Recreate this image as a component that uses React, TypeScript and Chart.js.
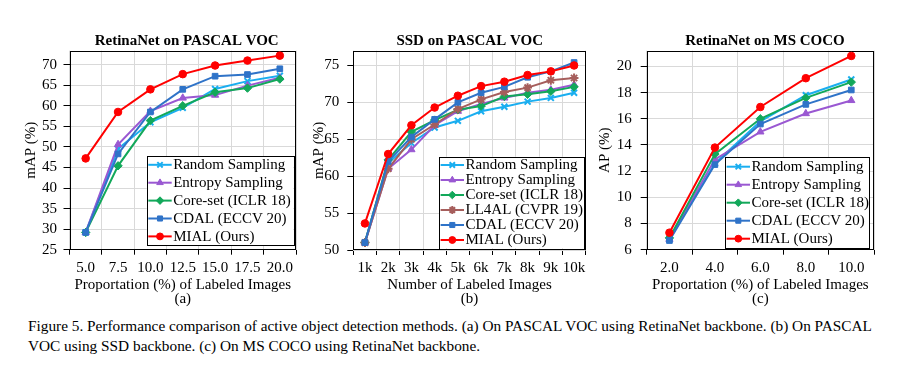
import React, { useEffect, useRef } from 'react';
import { Chart, registerables } from 'chart.js';
import { drawPoint } from 'chart.js/helpers';

Chart.register(...registerables);

const SERIF = "'Liberation Serif', 'Times New Roman', Times, serif";

// ---------- (a) RetinaNet on PASCAL VOC ----------
const vocRetinaLabels = ['5.0', '7.5', '10.0', '12.5', '15.0', '17.5', '20.0'];
const vocRetinaRandom = [29.2, 49.5, 56.0, 59.5, 64.1, 66.0, 67.3];
const vocRetinaEntropy = [29.2, 50.6, 58.7, 61.9, 62.6, 64.9, 66.8];
const vocRetinaCoreset = [29.2, 45.4, 56.4, 60.0, 63.3, 64.3, 66.5];
const vocRetinaCdal = [29.2, 48.3, 58.5, 64.0, 67.2, 67.6, 69.0];
const vocRetinaMial = [47.2, 58.5, 64.0, 67.7, 69.8, 71.0, 72.2];

// ---------- (b) SSD on PASCAL VOC ----------
const vocSsdLabels = ['1k', '2k', '3k', '4k', '5k', '6k', '7k', '8k', '9k', '10k'];
const vocSsdRandom = [51.0, 61.8, 64.5, 66.6, 67.5, 68.8, 69.4, 70.1, 70.6, 71.3];
const vocSsdEntropy = [51.0, 61.0, 63.6, 66.9, 68.8, 69.8, 70.6, 71.3, 71.7, 72.4];
const vocSsdCoreset = [51.0, 62.2, 66.0, 67.6, 69.0, 69.5, 70.8, 71.1, 71.5, 72.1];
const vocSsdLl4al = [51.0, 61.0, 65.0, 67.0, 69.1, 70.4, 71.4, 72.0, 73.0, 73.3];
const vocSsdCdal = [51.0, 62.0, 65.3, 67.7, 70.0, 71.3, 72.1, 73.4, 74.2, 75.4];
const vocSsdMial = [53.6, 63.0, 66.9, 69.3, 70.9, 72.2, 72.8, 73.7, 74.2, 75.0];

// ---------- (c) RetinaNet on MS COCO ----------
const cocoLabels = ['2.0', '4.0', '6.0', '8.0', '10.0'];
const cocoRandom = [6.8, 12.6, 15.8, 17.8, 19.0];
const cocoEntropy = [6.8, 12.9, 15.0, 16.4, 17.4];
const cocoCoreset = [6.9, 13.3, 16.0, 17.6, 18.8];
const cocoCdal = [6.7, 12.5, 15.6, 17.1, 18.2];
const cocoMial = [7.3, 13.8, 16.9, 19.1, 20.8];

const CAPTION_LINES = [
  'Figure 5. Performance comparison of active object detection methods. (a) On PASCAL VOC using RetinaNet backbone. (b) On PASCAL',
  'VOC using SSD backbone. (c) On MS COCO using RetinaNet backbone.',
];

type MethodKey = 'random' | 'entropy' | 'coreset' | 'll4al' | 'cdal' | 'mial';

const METHOD_STYLE: Record<MethodKey, { label: string; color: string; point: string; radius: number; order: number }> = {
  random: { label: 'Random Sampling', color: '#1AAEF0', point: 'crossRot', radius: 4.2, order: 5 },
  entropy: { label: 'Entropy Sampling', color: '#9A58D2', point: 'triangle', radius: 4.2, order: 4 },
  coreset: { label: 'Core-set (ICLR 18)', color: '#12A85A', point: 'rectRot', radius: 4.2, order: 3 },
  ll4al: { label: 'LL4AL (CVPR 19)', color: '#A65E5C', point: 'star', radius: 4.4, order: 2 },
  cdal: { label: 'CDAL (ECCV 20)', color: '#2F73C8', point: 'rect', radius: 4.0, order: 1 },
  mial: { label: 'MIAL (Ours)', color: '#FF0000', point: 'circle', radius: 3.8, order: 0 },
};

interface PanelSpec {
  title: string;
  yTitle: string;
  xTitle: string[];
  labels: string[];
  series: { key: MethodKey; data: number[] }[];
  yMin: number;
  yMax: number;
  yStep: number;
  box: { x: number; y: number; w: number; h: number };
  area: { left: number; right: number; top: number; bottom: number };
  titleX: number;
  titleY: number;
  yTitleX: number;
  yTickPad: number;
  legend: { right: number; bottom: number; width: number; rowH: number; padY: number };
}

const PANELS: PanelSpec[] = [
  {
    title: 'RetinaNet on PASCAL VOC',
    yTitle: 'mAP (%)',
    xTitle: ['Proportation (%) of Labeled Images', '(a)'],
    labels: vocRetinaLabels,
    series: [
      { key: 'random', data: vocRetinaRandom },
      { key: 'entropy', data: vocRetinaEntropy },
      { key: 'coreset', data: vocRetinaCoreset },
      { key: 'cdal', data: vocRetinaCdal },
      { key: 'mial', data: vocRetinaMial },
    ],
    yMin: 25,
    yMax: 73.4,
    yStep: 5,
    box: { x: 15, y: 28, w: 290, h: 284 },
    area: { left: 69.5, right: 296, top: 50.7, bottom: 249.7 },
    titleX: 186.7,
    titleY: 41.5,
    yTitleX: 31,
    yTickPad: 6.5,
    legend: { right: 2.7, bottom: 4.7, width: 146.6, rowH: 17.9, padY: 8.6 },
  },
  {
    title: 'SSD on PASCAL VOC',
    yTitle: 'mAP (%)',
    xTitle: ['Number of Labeled Images', '(b)'],
    labels: vocSsdLabels,
    series: [
      { key: 'random', data: vocSsdRandom },
      { key: 'entropy', data: vocSsdEntropy },
      { key: 'coreset', data: vocSsdCoreset },
      { key: 'll4al', data: vocSsdLl4al },
      { key: 'cdal', data: vocSsdCdal },
      { key: 'mial', data: vocSsdMial },
    ],
    yMin: 50,
    yMax: 77,
    yStep: 5,
    box: { x: 305, y: 28, w: 295, h: 284 },
    area: { left: 353.3, right: 585.7, top: 50.7, bottom: 250 },
    titleX: 469.7,
    titleY: 41.5,
    yTitleX: 319,
    yTickPad: 8,
    legend: { right: 1.7, bottom: 1.7, width: 145, rowH: 15, padY: 8.3 },
  },
  {
    title: 'RetinaNet on MS COCO',
    yTitle: 'AP (%)',
    xTitle: ['Proportation (%) of Labeled Images', '(c)'],
    labels: cocoLabels,
    series: [
      { key: 'random', data: cocoRandom },
      { key: 'entropy', data: cocoEntropy },
      { key: 'coreset', data: cocoCoreset },
      { key: 'cdal', data: cocoCdal },
      { key: 'mial', data: cocoMial },
    ],
    yMin: 6,
    yMax: 21.2,
    yStep: 2,
    box: { x: 592, y: 28, w: 305, h: 284 },
    area: { left: 646.7, right: 874, top: 50.7, bottom: 249.7 },
    titleX: 765,
    titleY: 41.5,
    yTitleX: 605,
    yTickPad: 9,
    legend: { right: 4.7, bottom: 1.5, width: 144.3, rowH: 18, padY: 9.5 },
  },
];

// Re-centre the built-in title block horizontally after layout.
const titleCenterPlugin = {
  id: 'titleCenter',
  afterLayout(chart: any, _args: any, opts: any) {
    const tb = chart.titleBlock;
    if (!tb || opts == null || opts.x == null) return;
    const w = tb.right - tb.left;
    tb.left = opts.x - w / 2;
    tb.right = opts.x + w / 2;
  },
};

const framePlugin = {
  id: 'plotFrame',
  beforeDatasetsDraw(chart: any) {
    const { ctx, chartArea } = chart;
    const l = Math.round(chartArea.left) + 0.5;
    const t = Math.round(chartArea.top) + 0.5;
    const r = Math.round(chartArea.right) - 0.5;
    const b = Math.round(chartArea.bottom) - 0.5;
    ctx.save();
    ctx.strokeStyle = '#000';
    ctx.lineWidth = 1;
    ctx.strokeRect(l, t, r - l, b - t);
    ctx.restore();
  },
};

const boxLegendPlugin = {
  id: 'boxLegend',
  afterDraw(chart: any, _args: any, opts: any) {
    if (!opts || !opts.width) return;
    const { ctx, chartArea } = chart;
    const items = chart.data.datasets;
    const n = items.length;
    const w = opts.width;
    const h = opts.padY * 2 + (n - 1) * opts.rowH;
    const x2 = chartArea.right - opts.right;
    const y2 = chartArea.bottom - opts.bottom;
    const x1 = x2 - w;
    const y1 = y2 - h;
    ctx.save();
    ctx.fillStyle = '#fff';
    ctx.fillRect(x1, y1, w, h);
    ctx.strokeStyle = '#000';
    ctx.lineWidth = 1;
    ctx.strokeRect(Math.round(x1) + 0.5, Math.round(y1) + 0.5, Math.round(w), Math.round(h));
    items.forEach((ds: any, i: number) => {
      const cy = y1 + opts.padY + i * opts.rowH;
      const lx1 = x1 + 1.6;
      const lx2 = lx1 + 23.4;
      ctx.strokeStyle = ds.borderColor;
      ctx.lineWidth = 2;
      ctx.beginPath();
      ctx.moveTo(lx1, cy);
      ctx.lineTo(lx2, cy);
      ctx.stroke();
      ctx.fillStyle = ds.backgroundColor;
      ctx.strokeStyle = ds.borderColor;
      ctx.lineWidth = ds.pointBorderWidth;
      drawPoint(ctx, { pointStyle: ds.pointStyle, rotation: 0, radius: ds.pointRadius * 0.9, borderWidth: ds.pointBorderWidth }, (lx1 + lx2) / 2, cy);
      ctx.fillStyle = '#000';
      ctx.font = `15px ${SERIF}`;
      ctx.textBaseline = 'middle';
      ctx.textAlign = 'left';
      ctx.fillText(ds.label, lx2 + 1.5, cy + 0.5);
    });
    ctx.restore();
  },
};

function buildConfig(spec: PanelSpec): any {
  const { box, area } = spec;
  const titleLH = 18;
  const titlePadTop = spec.titleY - box.y - titleLH / 2;
  const titlePadBottom = Math.max(0, area.top - box.y - titlePadTop - titleLH);
  const yWidth = area.left - box.x;
  const xHeight = box.y + box.h - area.bottom;
  const yTitleLH = 18;
  return {
    type: 'line',
    data: {
      labels: spec.labels,
      datasets: spec.series.map((s) => {
        const st = METHOD_STYLE[s.key];
        return {
          label: st.label,
          data: s.data,
          borderColor: st.color,
          backgroundColor: st.color,
          borderWidth: 2,
          pointStyle: st.point,
          pointRadius: st.radius,
          pointBorderWidth: st.point === 'crossRot' || st.point === 'star' ? 2 : 1,
          pointBackgroundColor: st.color,
          pointBorderColor: st.color,
          tension: 0,
          order: st.order,
          clip: false,
        };
      }),
    },
    options: {
      responsive: false,
      animation: false,
      devicePixelRatio: 1,
      events: [],
      layout: {
        padding: { left: 0, top: 0, bottom: 0, right: box.x + box.w - area.right },
      },
      plugins: {
        legend: { display: false },
        tooltip: { enabled: false },
        title: {
          display: true,
          text: spec.title,
          color: '#000',
          font: { family: SERIF, size: 15, weight: 'bold', lineHeight: 1.2 },
          padding: { top: titlePadTop, bottom: titlePadBottom },
        },
        titleCenter: { x: spec.titleX - box.x },
        boxLegend: spec.legend,
      },
      scales: {
        x: {
          type: 'category',
          offset: true,
          border: { display: false },
          grid: {
            offset: true,
            color: '#d9d9d9',
            lineWidth: 1,
            drawTicks: true,
            tickLength: 5,
            tickColor: '#000',
          },
          ticks: {
            color: '#000',
            font: { family: SERIF, size: 15, lineHeight: 1.2 },
            padding: 4,
            maxRotation: 0,
            autoSkip: false,
          },
          title: {
            display: true,
            text: spec.xTitle,
            color: '#000',
            font: { family: SERIF, size: 15, lineHeight: 0.95 },
            padding: { top: 0, bottom: 5.5 },
          },
          afterFit(scale: any) {
            scale.height = xHeight;
          },
        },
        y: {
          min: spec.yMin,
          max: spec.yMax,
          border: { display: false },
          grid: {
            color: '#d9d9d9',
            lineWidth: 1,
            drawTicks: true,
            tickLength: 6,
            tickColor: '#000',
          },
          ticks: {
            stepSize: spec.yStep,
            includeBounds: false,
            color: '#000',
            font: { family: SERIF, size: 15, lineHeight: 1.2 },
            padding: spec.yTickPad,
          },
          title: {
            display: true,
            text: spec.yTitle,
            color: '#000',
            font: { family: SERIF, size: 15, lineHeight: 1.2 },
            padding: { top: spec.yTitleX - box.x - yTitleLH / 2, bottom: 0 },
          },
          afterFit(scale: any) {
            scale.width = yWidth;
          },
        },
      },
    },
    plugins: [titleCenterPlugin, framePlugin, boxLegendPlugin],
  };
}

function Panel({ spec }: { spec: PanelSpec }) {
  const ref = useRef<HTMLCanvasElement>(null);
  useEffect(() => {
    const chart = new Chart(ref.current as HTMLCanvasElement, buildConfig(spec));
    return () => chart.destroy();
  }, [spec]);
  return (
    <canvas
      ref={ref}
      width={spec.box.w}
      height={spec.box.h}
      style={{
        position: 'absolute',
        left: spec.box.x,
        top: spec.box.y,
        width: spec.box.w,
        height: spec.box.h,
      }}
    />
  );
}

export default function App() {
  return (
    <div
      style={{
        position: 'absolute',
        left: 0,
        top: 0,
        width: 909,
        height: 366,
        overflow: 'hidden',
        background: '#fff',
      }}
    >
      {PANELS.map((p) => (
        <Panel key={p.title + p.xTitle[1]} spec={p} />
      ))}
      <div
        style={{
          position: 'absolute',
          left: 28,
          top: 316,
          fontFamily: SERIF,
          fontSize: 15.3,
          lineHeight: '20px',
          color: '#000',
          whiteSpace: 'pre',
        }}
      >
        {CAPTION_LINES.map((line, i) => (
          <div key={i}>{line}</div>
        ))}
      </div>
    </div>
  );
}
